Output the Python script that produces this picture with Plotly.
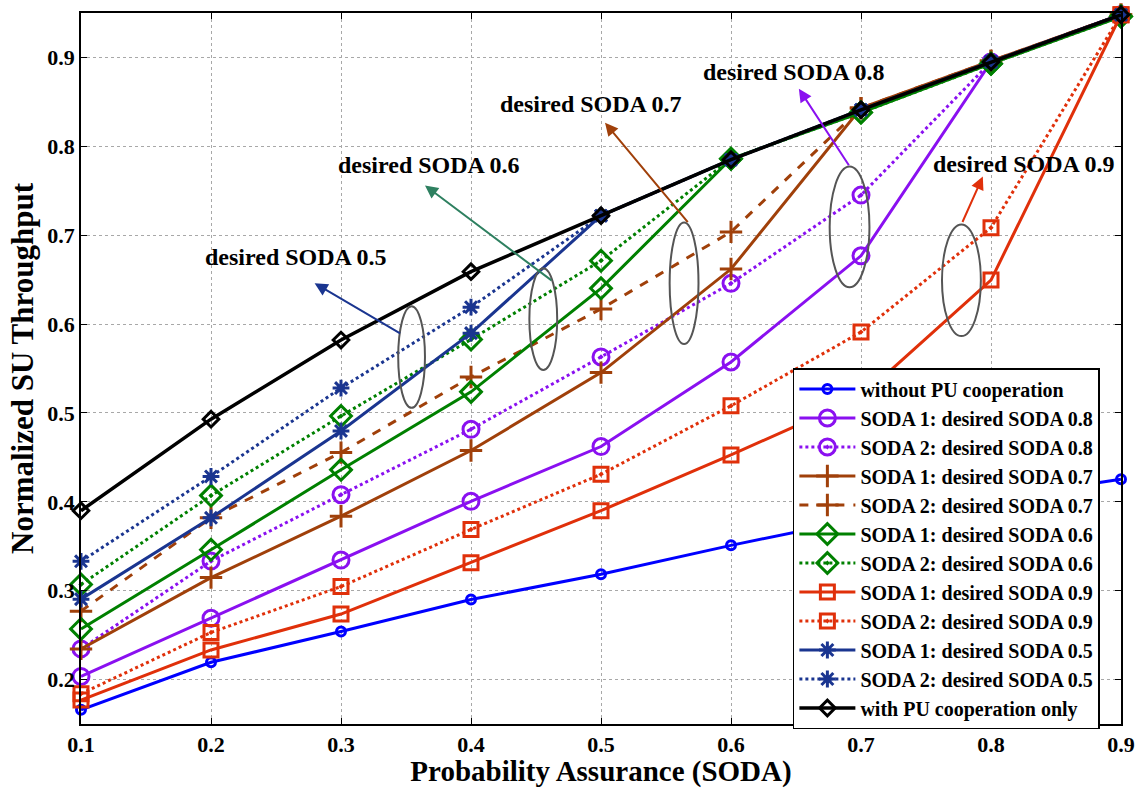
import plotly.graph_objects as go

x_vals = [0.1, 0.2, 0.3, 0.4, 0.5, 0.6, 0.7, 0.8, 0.9]

without_pu = [0.166, 0.2195, 0.254, 0.290, 0.3185, 0.351, 0.381, 0.403, 0.4255]
soda1_08 = [0.2035, 0.269, 0.3345, 0.4006, 0.4622, 0.5573, 0.6768, 0.895, 0.948]
soda2_08 = [0.2345, 0.3333, 0.408, 0.4816, 0.563, 0.6458, 0.7451, 0.895, 0.948]
soda1_07 = [0.2345, 0.3147, 0.3838, 0.4577, 0.5454, 0.6619, 0.843, 0.896, 0.948]
soda2_07 = [0.277, 0.382, 0.4554, 0.5405, 0.617, 0.7037, 0.843, 0.896, 0.948]
soda1_06 = [0.257, 0.346, 0.436, 0.5237, 0.6402, 0.786, 0.838, 0.893, 0.946]
soda2_06 = [0.307, 0.407, 0.4965, 0.5827, 0.6713, 0.786, 0.838, 0.893, 0.946]
soda1_09 = [0.177, 0.2333, 0.2737, 0.3315, 0.390, 0.4528, 0.518, 0.6495, 0.948]
soda2_09 = [0.184, 0.253, 0.3046, 0.3689, 0.431, 0.508, 0.591, 0.7085, 0.948]
soda1_05 = [0.2905, 0.382, 0.4797, 0.5898, 0.722, 0.785, 0.841, 0.895, 0.948]
soda2_05 = [0.333, 0.4285, 0.528, 0.619, 0.722, 0.785, 0.841, 0.895, 0.948]
with_pu = [0.390, 0.493, 0.582, 0.659, 0.722, 0.785, 0.841, 0.895, 0.948]

x_ticks = [0.1, 0.2, 0.3, 0.4, 0.5, 0.6, 0.7, 0.8, 0.9]
y_ticks = [0.2, 0.3, 0.4, 0.5, 0.6, 0.7, 0.8, 0.9]

BLUE = "#0000FF"
PURPLE = "#8A10F0"
BROWN = "#A0400A"
GREEN = "#008000"
RED = "#E0300A"
NAVY = "#1A3590"
BLACK = "#000000"

FONT = "Liberation Serif"

series = [
    ("without PU cooperation", without_pu, BLUE, "solid", "circle-open", 9, 3),
    ("SODA 1: desired SODA 0.8", soda1_08, PURPLE, "solid", "circle-open", 16, 3),
    ("SODA 2: desired SODA 0.8", soda2_08, PURPLE, "dot", "circle-open-dot", 16, 3),
    ("SODA 1: desired SODA 0.7", soda1_07, BROWN, "solid", "cross-thin-open", 16, 3),
    ("SODA 2: desired SODA 0.7", soda2_07, BROWN, "dash", "cross-thin-open", 16, 3),
    ("SODA 1: desired SODA 0.6", soda1_06, GREEN, "solid", "diamond-open", 16, 3),
    ("SODA 2: desired SODA 0.6", soda2_06, GREEN, "dot", "diamond-open-dot", 16, 3),
    ("SODA 1: desired SODA 0.9", soda1_09, RED, "solid", "square-open", 14, 3),
    ("SODA 2: desired SODA 0.9", soda2_09, RED, "dot", "square-open-dot", 14, 3),
    ("SODA 1: desired SODA 0.5", soda1_05, NAVY, "solid", "asterisk-open", 14, 3),
    ("SODA 2: desired SODA 0.5", soda2_05, NAVY, "dot", "asterisk-open", 14, 3),
    ("with PU cooperation only", with_pu, BLACK, "solid", "diamond-open", 12, 3.5),
]

fig = go.Figure()
for name, vals, col, dash, sym, size, lw in series:
    fig.add_trace(go.Scatter(
        x=x_vals, y=vals, name=f"<b>{name}</b>", mode="lines+markers",
        line=dict(color=col, width=lw, dash=dash),
        marker=dict(symbol=sym, size=size, color=col, line=dict(color=col, width=3)),
        cliponaxis=False,
    ))

# ellipses (pixel estimates converted to data)
ellipses = [
    (0.344, 0.5057, 0.3646, 0.6201),
    (0.4449, 0.5483, 0.4663, 0.6628),
    (0.5528, 0.5775, 0.5750, 0.7144),
    (0.6759, 0.6414, 0.7065, 0.7772),
    (0.7623, 0.5865, 0.7922, 0.7121),
]
for x0, y0, x1, y1 in ellipses:
    fig.add_shape(type="circle", xref="x", yref="y", x0=x0, y0=y0, x1=x1, y1=y1,
                  line=dict(color="#555555", width=2))

arrows = [
    (0.2797, 0.6459, 87, 51, "#1A3590"),
    (0.3646, 0.7559, 128, 96, "#2E8060"),
    (0.5031, 0.8266, 84, 101, "#A0400A"),
    (0.6522, 0.8647, 51, 78, "#8A10F0"),
    (0.7937, 0.7660, -21, 47, "#E0300A"),
]
for hx, hy, ax, ay, col in arrows:
    fig.add_annotation(x=hx, y=hy, ax=ax, ay=ay, xref="x", yref="y", text="",
                       showarrow=True, arrowhead=2, arrowsize=1.3, arrowwidth=2,
                       arrowcolor=col)

labels = [
    ("desired SODA 0.5", 0.2652, 0.6751),
    ("desired SODA 0.6", 0.3677, 0.7795),
    ("desired SODA 0.7", 0.4923, 0.8479),
    ("desired SODA 0.8", 0.6484, 0.8838),
    ("desired SODA 0.9", 0.8250, 0.7806),
]
for t, lx, ly in labels:
    fig.add_annotation(x=lx, y=ly, xref="x", yref="y", text=f"<b>{t}</b>",
                       showarrow=False, font=dict(family=FONT, size=24, color="black"))

axis_common = dict(
    showline=True, linecolor="black", linewidth=1.5, mirror="ticks",
    ticks="inside", ticklen=6, tickcolor="black",
    showgrid=True, gridcolor="#A8A8A8", griddash="dot", gridwidth=1,
    zeroline=False,
    tickfont=dict(family=FONT, size=22, color="black"),
)

fig.update_layout(
    width=1146, height=788,
    margin=dict(l=81, r=19, t=11, b=64),
    paper_bgcolor="white", plot_bgcolor="white",
    font=dict(family=FONT, color="black"),
    xaxis=dict(range=[0.1, 0.9], tickvals=x_ticks,
               ticktext=[f"<b>{v:.1f}</b>" for v in x_ticks],
               title=dict(text="<b>Probability Assurance (SODA)</b>",
                          font=dict(family=FONT, size=29, color="black"), standoff=0),
               **axis_common),
    yaxis=dict(range=[0.15, 0.95], tickvals=y_ticks,
               ticktext=[f"<b>{v:.1f}</b>" for v in y_ticks],
               title=dict(text="<b>Normalized SU Throughput</b>",
                          font=dict(family=FONT, size=31, color="black"), standoff=4),
               **axis_common),
    legend=dict(x=0.6845, y=0.5007, xanchor="left", yanchor="top",
                bgcolor="white", bordercolor="black", borderwidth=1.5,
                font=dict(family=FONT, size=20, color="black"),
                itemwidth=56, tracegroupgap=0),
    showlegend=True,
)

fig.write_html("out.html")
